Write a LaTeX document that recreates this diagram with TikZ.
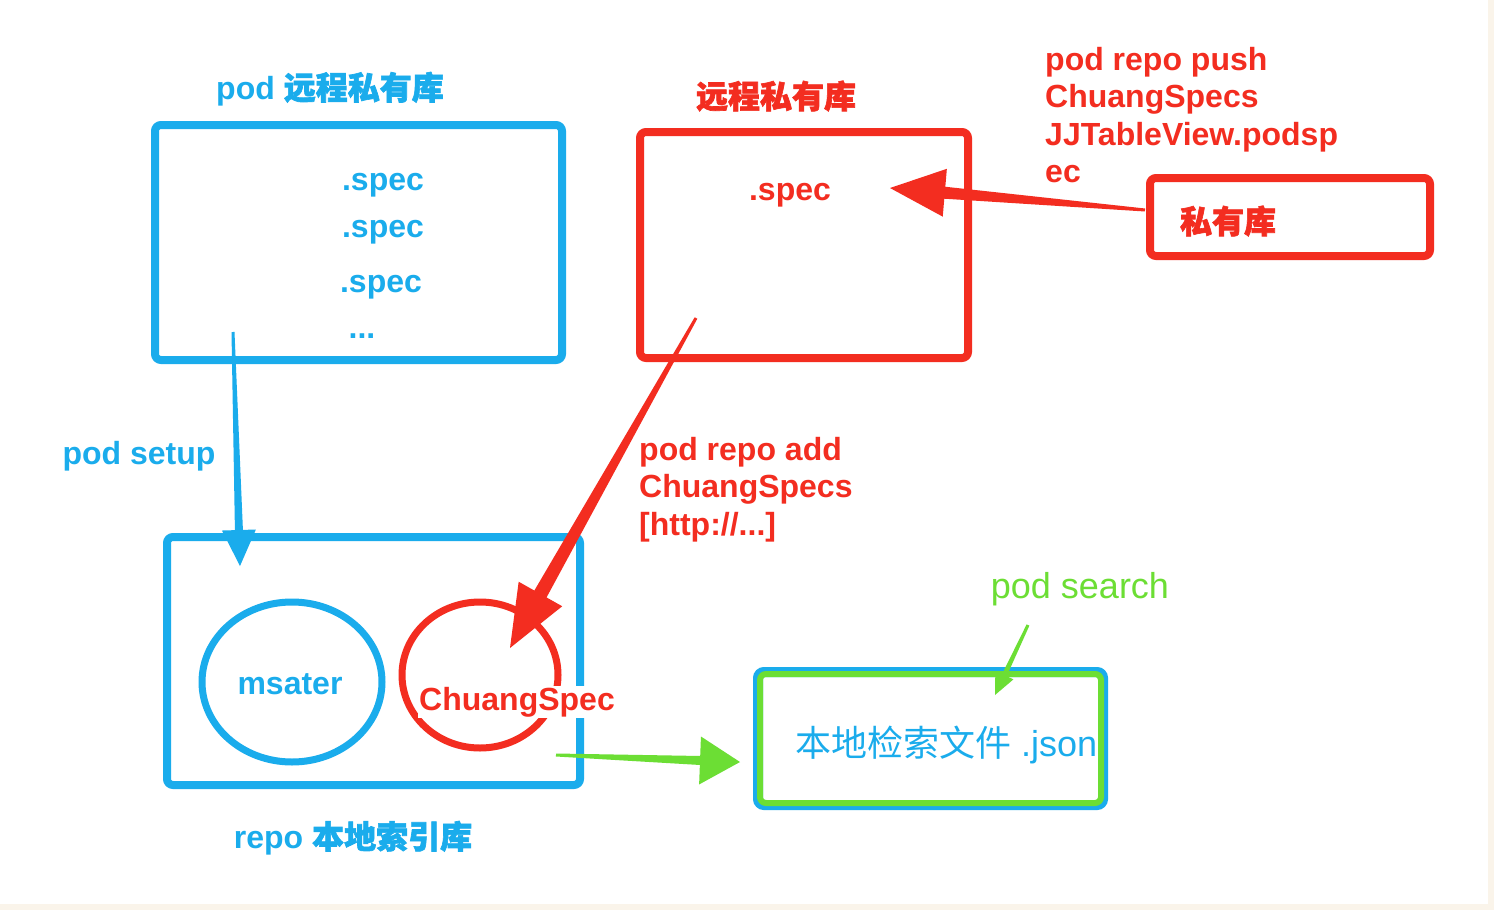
\documentclass[tikz,border=0pt]{standalone}
\usepackage{fontspec}
\setmainfont{Liberation Sans}
\newfontfamily\cjk{Noto Sans CJK SC}
\newfontfamily\cjkb[FakeBold=2]{Noto Sans CJK SC}
\usepackage{tikz}
\usetikzlibrary{calc,shapes.geometric}

\definecolor{podblue}{RGB}{26,172,236}
\definecolor{podred}{RGB}{243,45,32}
\definecolor{podgreen}{RGB}{108,222,52}
\definecolor{pagebeige}{RGB}{250,244,234}

% tapered arrow: colour, from, to, neck half-width, head length, head half-width
\newcommand{\fatarrow}[6]{%
  \coordinate (fa-b) at ($(#3)!#5!(#2)$);
  \fill[#1] ($(#2)!1.5pt!90:(#3)$) -- ($(fa-b)!#4!90:(#3)$) -- ($(fa-b)!#6!90:(#3)$)
    -- (#3) -- ($(fa-b)!#6!-90:(#3)$) -- ($(fa-b)!#4!-90:(#3)$) -- ($(#2)!1.5pt!-90:(#3)$) -- cycle;}

\begin{document}
\begin{tikzpicture}[x=1pt,y=-1pt,
    frame/.style={draw,line width=8pt,rounded corners=6pt,inner sep=0pt,outer sep=0pt},
    ring/.style={draw,ellipse,line width=7pt,inner sep=0pt},
    lbl/.style={font=\fontsize{32}{37.5}\selectfont\bfseries,inner sep=0pt},
    thin/.style={font=\fontsize{36}{40}\selectfont,inner sep=0pt}]
  \useasboundingbox (0,0) rectangle (1494,910);
  \fill[pagebeige] (0,0) rectangle (1494,910);
  \fill[white] (0,0) rectangle (1488,904);

  % boxes
  \node[frame,podblue,minimum width=407pt,minimum height=235pt] (remote) at (358.5,242.5) {};
  \node[frame,podred,minimum width=328pt,minimum height=226pt] (private) at (804,245) {};
  \node[frame,podred,minimum width=280pt,minimum height=78pt] (mine) at (1290,217) {};
  \node[frame,podblue,minimum width=413pt,minimum height=248pt] (local) at (373.5,661) {};
  \node[ring,podblue,minimum width=180pt,minimum height=160pt] (master) at (292,682) {};
  \node[ring,podred,minimum width=156pt,minimum height=146pt] (chuang) at (480,675) {};
  \node[frame,podblue,line width=10pt,minimum width=345pt,minimum height=133pt] (json) at (930.5,738.5) {};
  \node[frame,podgreen,line width=6pt,minimum width=341pt,minimum height=129pt] (jsonin) at (json) {};

  % labels
  \node[lbl,podblue] (remotet) at (330,89) {pod {\cjkb 远程私有库}};
  \node[lbl,podblue] (spec1) at (383,185) {.spec};
  \node[lbl,podblue] (spec2) at (383,232) {.spec};
  \node[lbl,podblue] (spec3) at (381,287) {.spec};
  \node[lbl,podblue] (dots) at (362,336) {...};
  \node[lbl,podred] (privatet) at (776,96) {\cjkb 远程私有库};
  \node[lbl,podred] (spec4) at (790,195) {.spec};
  \node[lbl,podred] (minet) at (1228,221) {\cjkb 私有库};
  \node[lbl,podred,align=left,anchor=north west] (push) at (1045,47)
    {pod repo push\\ChuangSpecs\\JJTableView.podsp\\ec};
  \node[lbl,podred,align=left,anchor=north west] (add) at (639,437)
    {pod repo add\\ChuangSpecs\\{[}http://...{]}};
  \node[lbl,podblue] (setup) at (139,456) {pod setup};
  \node[lbl,podblue] (mastert) at (290,684) {msater};
  \node[lbl,podred,fill=white,inner sep=1pt] (chuangt) at (517,702) {ChuangSpec};
  \node[lbl,podblue] (localt) at (353,838) {repo {\cjkb 本地索引库}};
  \node[thin,podblue,anchor=west] (jsont) at (795,745) {{\cjk 本地检索文件} .json};
  \node[thin,podgreen] (search) at (1080,589) {pod search};

  % arrows
  \coordinate (s1) at (233,332); \coordinate (e1) at (240,566);
  \coordinate (s2) at (1145,210); \coordinate (e2) at (890,188);
  \coordinate (s3) at (696,318); \coordinate (e3) at (510,648);
  \coordinate (s4) at (556,755); \coordinate (e4) at (740,762);
  \coordinate (s5) at (1028,625); \coordinate (e5) at (995,695);
  \fatarrow{podblue}{s1}{e1}{4pt}{36pt}{17pt}
  \fatarrow{podred}{s2}{e2}{6pt}{55pt}{24pt}
  \fatarrow{podred}{s3}{e3}{7pt}{62pt}{25pt}
  \fatarrow{podgreen}{s4}{e4}{4.5pt}{40pt}{24pt}
  \fatarrow{podgreen}{s5}{e5}{2.5pt}{22pt}{10pt}
\end{tikzpicture}
\end{document}
